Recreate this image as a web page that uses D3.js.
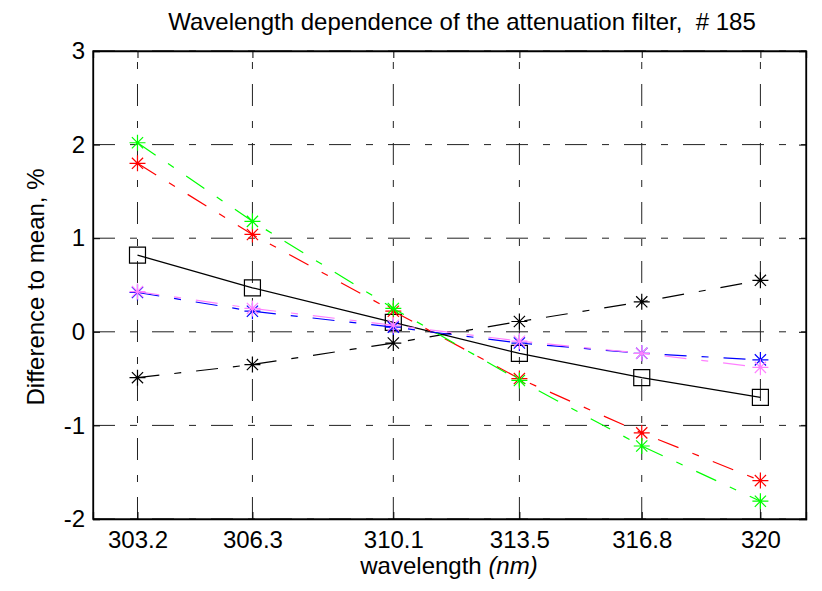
<!DOCTYPE html>
<html>
<head>
<meta charset="utf-8">
<script src="https://cdn.jsdelivr.net/npm/d3@7"></script>
<style>
  body { margin: 0; background: #fff; }
  svg { display: block; font-family: "Liberation Sans", Arial, sans-serif; }
</style>
</head>
<body>
<svg width="822" height="591"></svg>
<script>
// wavelengths (nm)
var wavelengths = [303.2, 306.3, 310.1, 313.5, 316.8, 320];
var yTicks = [-2, -1, 0, 1, 2, 3];

// difference to mean, %
var serieRoja    = [1.80, 1.04, 0.22, -0.50, -1.08, -1.59];
var serieVerde   = [2.02, 1.18, 0.25, -0.52, -1.22, -1.81];
var serieAzul    = [0.42, 0.22, 0.05, -0.12, -0.23, -0.30];
var serieRosa    = [0.43, 0.25, 0.07, -0.10, -0.23, -0.38];
var serieNegra   = [-0.49, -0.35, -0.12, 0.11, 0.32, 0.55];
var serieMedia   = [0.82, 0.47, 0.10, -0.23, -0.49, -0.70];

var series = [
  {valores: serieNegra, color: "#000", dash: "22,15,7,15", marca: "star"},
  {valores: serieMedia, color: "#000", dash: null, marca: "square"},
  {valores: serieRoja,  color: "#ff0000", dash: "22,15,7,15", marca: "star"},
  {valores: serieVerde, color: "#00ff00", dash: "22,15,7,15", marca: "star"},
  {valores: serieAzul,  color: "#0000ff", dash: "22,15,7,15", marca: "star"},
  {valores: serieRosa,  color: "#ff80ff", dash: "22,15,7,15", marca: "star"}
];

var svg = d3.select("svg"),
    margin = {top: 51, right: 16, bottom: 72, left: 93},
    width = 822 - margin.left - margin.right,
    height = 591 - margin.top - margin.bottom,
    g = svg.append("g").attr("transform", "translate(" + margin.left + "," + margin.top + ")");

var x = d3.scaleLinear().domain([302, 321.23]).range([0, width]);
var y = d3.scaleLinear().domain([-2, 3]).range([height, 0]);

// grid
var gridDash = "22,15,7,15";
g.selectAll(".gridx").data(wavelengths).enter().append("line")
  .attr("x1", function(d) { return x(d); }).attr("x2", function(d) { return x(d); })
  .attr("y1", height).attr("y2", 0)
  .attr("stroke", "#222").attr("stroke-width", 1).attr("stroke-dasharray", gridDash);
g.selectAll(".gridy").data(yTicks).enter().append("line")
  .attr("x1", 0).attr("x2", width)
  .attr("y1", function(d) { return y(d); }).attr("y2", function(d) { return y(d); })
  .attr("stroke", "#222").attr("stroke-width", 1).attr("stroke-dasharray", gridDash);

// axes (ticks inside, box)
var tick = 7;
var ejeX = g.append("g").attr("transform", "translate(0," + height + ")")
  .call(d3.axisBottom(x).tickValues(wavelengths).tickSize(-tick).tickPadding(12).tickFormat(function(d) { return String(d); }));
var ejeY = g.append("g")
  .call(d3.axisLeft(y).tickValues(yTicks).tickSize(-tick).tickPadding(8).tickFormat(function(d) { return String(d); }));
g.append("g").call(d3.axisTop(x).tickValues(wavelengths).tickSize(-tick).tickFormat(""));
g.append("g").attr("transform", "translate(" + width + ",0)")
  .call(d3.axisRight(y).tickValues(yTicks).tickSize(-tick).tickFormat(""));
g.selectAll(".domain").attr("stroke", "#000").attr("stroke-width", 1.3);
g.selectAll(".tick line").attr("stroke", "#000");
g.selectAll(".tick text").attr("fill", "#000").style("font-size", "24px").style("font-family", "Liberation Sans, Arial, sans-serif");
ejeX.selectAll(".tick text").attr("dy", "0.71em");
g.append("rect").attr("width", width).attr("height", height)
  .attr("fill", "none").attr("stroke", "#000").attr("stroke-width", 1.3);

// lines
var linea = d3.line()
  .x(function(d, i) { return x(wavelengths[i]); })
  .y(function(d) { return y(d); });

series.forEach(function(s) {
  g.append("path")
    .attr("d", linea(s.valores))
    .attr("fill", "none")
    .attr("stroke", s.color)
    .attr("stroke-width", 1.2)
    .attr("stroke-dasharray", s.dash);

  var marcas = g.selectAll(null).data(s.valores).enter().append("path")
    .attr("transform", function(d, i) { return "translate(" + x(wavelengths[i]) + "," + y(d) + ")"; })
    .attr("fill", "none")
    .attr("stroke", s.color)
    .attr("stroke-width", 1.2);
  if (s.marca === "star") {
    marcas.attr("d", "M-8,0H8M0,-8V8M-5.6,-5.6L5.6,5.6M-5.6,5.6L5.6,-5.6");
  } else {
    marcas.attr("d", "M-8,-8H8V8H-8Z");
  }
});

// texts
svg.append("text")
  .attr("x", 462).attr("y", 30)
  .attr("text-anchor", "middle")
  .attr("xml:space", "preserve")
  .style("font-size", "24px")
  .text("Wavelength dependence of the attenuation filter,  # 185");

var xl = svg.append("text")
  .attr("x", 449).attr("y", 574)
  .attr("text-anchor", "middle")
  .style("font-size", "24px");
xl.append("tspan").text("wavelength ");
xl.append("tspan").style("font-style", "italic").text("(nm)");

svg.append("text")
  .attr("transform", "translate(44,287) rotate(-90)")
  .attr("text-anchor", "middle")
  .style("font-size", "24px")
  .text("Difference to mean, %");
</script>
</body>
</html>
